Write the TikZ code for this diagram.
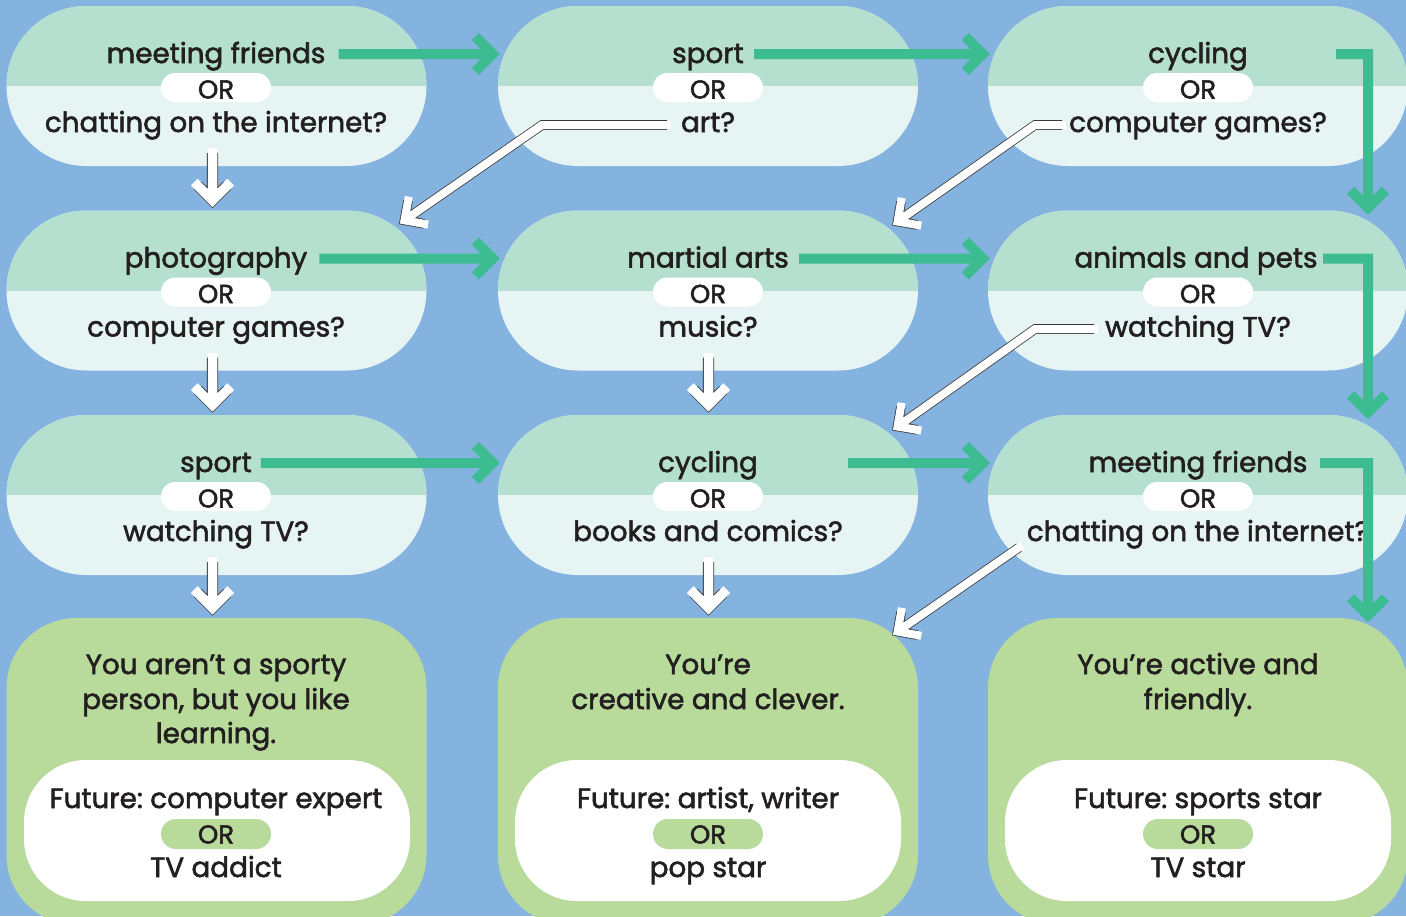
\documentclass[tikz,border=0pt]{standalone}
\usepackage{fontspec}
\setmainfont{Poppins}[FakeBold=2]
\usetikzlibrary{shapes.misc,calc}
\definecolor{bg}{HTML}{85B3E0}
\definecolor{qtop}{HTML}{B5DFCE}
\definecolor{qbot}{HTML}{E6F4F4}
\definecolor{rgreen}{HTML}{B8DA9B}
\definecolor{garr}{HTML}{3DBB91}
\definecolor{ink}{HTML}{231F20}
\definecolor{outl}{HTML}{3A3A3A}
\frenchspacing
\begin{document}
\begin{tikzpicture}[x=1pt,y=-1pt,
  qbox/.style={rounded rectangle, minimum width=420pt, minimum height=160pt, inner sep=0pt, fill=qbot,
    path picture={\fill[qtop] (path picture bounding box.north west) rectangle (path picture bounding box.east);}},
  rbox/.style={rectangle, rounded corners=70pt, minimum width=420pt, minimum height=307pt, inner sep=0pt, fill=rgreen},
  fbox/.style={rectangle, rounded corners=62pt, minimum width=386pt, minimum height=141pt, inner sep=0pt, fill=white},
  qpill/.style={rounded rectangle, minimum width=110pt, minimum height=29pt, inner sep=0pt, fill=white, text=ink,
    font=\fontsize{26}{26}\selectfont, text height=22pt, text depth=0pt},
  rpill/.style={qpill, fill=rgreen, minimum height=30pt, text height=19pt},
  txt/.style={anchor=base, inner sep=0pt, text=ink, font=\fontsize{27.8}{34}\selectfont},
  garrow/.style={draw=garr, line width=10pt, line join=miter, line cap=butt},
  warrowD/.style={draw=white, line width=9.5pt, line join=miter, line cap=rect, preaction={draw=outl, line width=11.1pt}},
  warrowG/.style={draw=white, line width=8pt, line join=miter, line cap=rect, preaction={draw=outl, line width=9.6pt}},
]
\useasboundingbox (0,0) rectangle (1406,916);
\fill[bg] (0,0) rectangle (1406,916);

% question boxes
\node[qbox] (q11) at (216.5,86) {};
\node[qbox] (q12) at (708,86) {};
\node[qbox] (q13) at (1198,86) {};
\node[qbox] (q21) at (216.5,290.5) {};
\node[qbox] (q22) at (708,290.5) {};
\node[qbox] (q23) at (1198,290.5) {};
\node[qbox] (q31) at (216.5,495) {};
\node[qbox] (q32) at (708,495) {};
\node[qbox] (q33) at (1198,495) {};
% result boxes
\node[rbox] (r1) at (216.5,771.5) {};
\node[rbox] (r2) at (708,771.5) {};
\node[rbox] (r3) at (1198,771.5) {};
\node[fbox] (f1) at (217,830.5) {};
\node[fbox] (f2) at (708,830.5) {};
\node[fbox] (f3) at (1198,830.5) {};

% row 1 texts
\node[txt] (a11) at (216,63) {meeting friends};
\node[qpill] (o11) at (216,87.5) {OR};
\node[txt] (b11) at (216,132) {chatting on the internet?};
\node[txt] (a12) at (708,63) {sport};
\node[qpill] (o12) at (708,87.5) {OR};
\node[txt] (b12) at (708,132) {art?};
\node[txt] (a13) at (1198,63) {cycling};
\node[qpill] (o13) at (1198,87.5) {OR};
\node[txt] (b13) at (1198,132) {computer games?};
% row 2 texts
\node[txt] (a21) at (216,267.5) {photography};
\node[qpill] (o21) at (216,292) {OR};
\node[txt] (b21) at (216,336.5) {computer games?};
\node[txt] (a22) at (708,267.5) {martial arts};
\node[qpill] (o22) at (708,292) {OR};
\node[txt] (b22) at (708,336.5) {music?};
\node[txt] (a23) at (1196,267.5) {animals and pets};
\node[qpill] (o23) at (1198,292) {OR};
\node[txt] (b23) at (1198,336.5) {watching TV?};
% row 3 texts
\node[txt] (a31) at (216,472) {sport};
\node[qpill] (o31) at (216,496.5) {OR};
\node[txt] (b31) at (216,541) {watching TV?};
\node[txt] (a32) at (708,472) {cycling};
\node[qpill] (o32) at (708,496.5) {OR};
\node[txt] (b32) at (708,541) {books and comics?};
\node[txt] (a33) at (1198,472) {meeting friends};
\node[qpill] (o33) at (1198,496.5) {OR};
\node[txt] (b33) at (1198,541) {chatting on the internet?};

% results texts
\node[txt] (y1a) at (216,674) {You aren’t a sporty};
\node[txt] (y1b) at (216,709) {person, but you like};
\node[txt] (y1c) at (216,743) {learning.};
\node[txt] (z1a) at (216,808) {Future: computer expert};
\node[rpill] (z1o) at (216,834) {OR};
\node[txt] (z1b) at (216,877) {TV addict};

\node[txt] (y2a) at (708,674) {You’re};
\node[txt] (y2b) at (708,709) {creative and clever.};
\node[txt] (z2a) at (708,808) {Future: artist, writer};
\node[rpill] (z2o) at (708,834) {OR};
\node[txt] (z2b) at (708,877) {pop star};

\node[txt] (y3a) at (1198,674) {You’re active and};
\node[txt] (y3b) at (1198,709) {friendly.};
\node[txt] (z3a) at (1198,808) {Future: sports star};
\node[rpill] (z3o) at (1198,834) {OR};
\node[txt] (z3b) at (1198,877) {TV star};

% green arrows: horizontal
\coordinate (g11) at ($(q12.west)+(-5,-32)$);
\draw[garrow] ($(a11.base east)+(13,-9)$) -- (g11) (g11) ++(-17.5,-17.5) -- (g11) -- ++(-17.5,17.5);
\coordinate (g12) at ($(q13.west)+(-5,-32)$);
\draw[garrow] ($(a12.base east)+(10,-9)$) -- (g12) (g12) ++(-17.5,-17.5) -- (g12) -- ++(-17.5,17.5);
\coordinate (g21) at ($(q22.west)+(-5,-32)$);
\draw[garrow] ($(a21.base east)+(12,-9)$) -- (g21) (g21) ++(-17.5,-17.5) -- (g21) -- ++(-17.5,17.5);
\coordinate (g22) at ($(q23.west)+(-5,-32)$);
\draw[garrow] ($(a22.base east)+(10,-9)$) -- (g22) (g22) ++(-17.5,-17.5) -- (g22) -- ++(-17.5,17.5);
\coordinate (g31) at ($(q32.west)+(-5,-32)$);
\draw[garrow] ($(a31.base east)+(9,-9)$) -- (g31) (g31) ++(-17.5,-17.5) -- (g31) -- ++(-17.5,17.5);
\coordinate (g32) at ($(q33.west)+(-5,-32)$);
\draw[garrow] ($(q32.center)+(140,-32)$) -- (g32) (g32) ++(-17.5,-17.5) -- (g32) -- ++(-17.5,17.5);
% green arrows: L-shaped down
\coordinate (g13) at ($(q23.north)+(170,-2.5)$);
\draw[garrow] ($(q13.center)+(138,-32)$) -- ($(q13.center)+(170,-32)$) -- (g13) (g13) ++(-17.5,-17.5) -- (g13) -- ++(17.5,-17.5);
\coordinate (g23) at ($(q33.north)+(170,-2.5)$);
\draw[garrow] ($(q23.center)+(125,-32)$) -- ($(q23.center)+(170,-32)$) -- (g23) (g23) ++(-17.5,-17.5) -- (g23) -- ++(17.5,-17.5);
\coordinate (g33) at ($(r3.north)+(170,-2.5)$);
\draw[garrow] ($(q33.center)+(122,-32)$) -- ($(q33.center)+(170,-32)$) -- (g33) (g33) ++(-17.5,-17.5) -- (g33) -- ++(17.5,-17.5);

% white arrows: down
\coordinate (d1s) at ($(q11.south)+(-4,-13)$);
\coordinate (d1t) at ($(q21.north)+(-4,-10)$);
\draw[warrowD] (d1s) -- ($(d1t)!6pt!(d1s)$) ($(d1t)!21pt!45:(d1s)$) -- (d1t) -- ($(d1t)!21pt!-45:(d1s)$);
\coordinate (d2s) at ($(q21.south)+(-4,-13)$);
\coordinate (d2t) at ($(q31.north)+(-4,-10)$);
\draw[warrowD] (d2s) -- ($(d2t)!6pt!(d2s)$) ($(d2t)!21pt!45:(d2s)$) -- (d2t) -- ($(d2t)!21pt!-45:(d2s)$);
\coordinate (d3s) at ($(q31.south)+(-4,-13)$);
\coordinate (d3t) at ($(r1.north)+(-4,-10)$);
\draw[warrowD] (d3s) -- ($(d3t)!6pt!(d3s)$) ($(d3t)!21pt!45:(d3s)$) -- (d3t) -- ($(d3t)!21pt!-45:(d3s)$);
\coordinate (d4s) at ($(q22.south)+(0.5,-13)$);
\coordinate (d4t) at ($(q32.north)+(0.5,-10)$);
\draw[warrowD] (d4s) -- ($(d4t)!6pt!(d4s)$) ($(d4t)!21pt!45:(d4s)$) -- (d4t) -- ($(d4t)!21pt!-45:(d4s)$);
\coordinate (d5s) at ($(q32.south)+(0.5,-13)$);
\coordinate (d5t) at ($(r2.north)+(0.5,-10)$);
\draw[warrowD] (d5s) -- ($(d5t)!6pt!(d5s)$) ($(d5t)!21pt!45:(d5s)$) -- (d5t) -- ($(d5t)!21pt!-45:(d5s)$);

% white arrows: diagonal
\coordinate (w1s) at ($(b12.base west)+(-14,-7)$);
\coordinate (w1b) at ($(q12.center)+(-166,39)$);
\coordinate (w1t) at ($(q21.north)+(188,10)$);
\draw[warrowG] (w1s) -- (w1b) -- ($(w1t)!6pt!(w1b)$) ($(w1t)!20pt!45:(w1b)$) -- (w1t) -- ($(w1t)!20pt!-45:(w1b)$);
\coordinate (w2s) at ($(b13.base west)+(-7,-7)$);
\coordinate (w2b) at ($(q13.center)+(-163,39)$);
\coordinate (w2t) at ($(q22.north)+(189.6,11.2)$);
\draw[warrowG] (w2s) -- (w2b) -- ($(w2t)!6pt!(w2b)$) ($(w2t)!20pt!45:(w2b)$) -- (w2t) -- ($(w2t)!20pt!-45:(w2b)$);
\coordinate (w3s) at ($(b23.base west)+(-11,-7.5)$);
\coordinate (w3b) at ($(q23.center)+(-163,38.5)$);
\coordinate (w3t) at ($(q32.north)+(189.6,11.7)$);
\draw[warrowG] (w3s) -- (w3b) -- ($(w3t)!6pt!(w3b)$) ($(w3t)!20pt!45:(w3b)$) -- (w3t) -- ($(w3t)!20pt!-45:(w3b)$);
\coordinate (w4s) at ($(q33.center)+(-179,52.5)$);
\coordinate (w4t) at ($(r2.north)+(189.6,13.7)$);
\draw[warrowG] (w4s) -- ($(w4t)!6pt!(w4s)$) ($(w4t)!20pt!45:(w4s)$) -- (w4t) -- ($(w4t)!20pt!-45:(w4s)$);
\end{tikzpicture}
\end{document}
